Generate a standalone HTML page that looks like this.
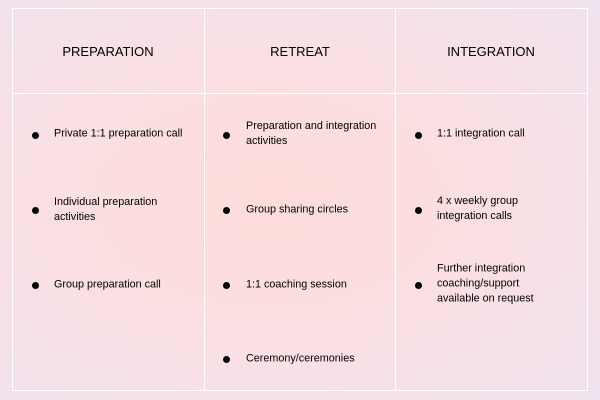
<!DOCTYPE html>
<html><head><style>
body{margin:0;width:600px;height:400px;overflow:hidden;font-family:"Liberation Sans",sans-serif;color:#111;
background:radial-gradient(ellipse at 45% 50%,#fddcda 0%,#fbdfe2 45%,#f3e2eb 85%,#eee3ee 100%);position:relative}
.box{position:absolute;left:12px;top:8px;width:576px;height:383px;border:1px solid #fff;box-sizing:border-box}
.v{position:absolute;top:8px;height:383px;width:1px;background:#fff}
.h{position:absolute;left:12px;width:576px;top:93px;height:1px;background:#fff}
.hd{position:absolute;top:44px;font-size:13px;text-align:center;width:190px;color:#000}
.it{position:absolute;font-size:10.8px;line-height:15px;transform:translateY(-50%);color:#000}
.d{position:absolute;width:7px;height:7px;border-radius:50%;background:#000;transform:translate(-3px,-3px)}
</style></head><body>
<div class="box"></div><div class="v" style="left:204px"></div><div class="v" style="left:395px"></div><div class="h"></div>
<div class="hd" style="left:13px">PREPARATION</div>
<div class="hd" style="left:205px">RETREAT</div>
<div class="hd" style="left:396px">INTEGRATION</div>

<div class="d" style="left:35px;top:135px"></div><div class="it" style="left:54px;top:134px">Private 1:1 preparation call</div>
<div class="d" style="left:35px;top:210px"></div><div class="it" style="left:54px;top:210px">Individual preparation<br>activities</div>
<div class="d" style="left:35px;top:285px"></div><div class="it" style="left:54px;top:285px">Group preparation call</div>

<div class="d" style="left:226px;top:135px"></div><div class="it" style="left:246px;top:134px">Preparation and integration<br>activities</div>
<div class="d" style="left:226px;top:210px"></div><div class="it" style="left:246px;top:210px">Group sharing circles</div>
<div class="d" style="left:226px;top:285px"></div><div class="it" style="left:246px;top:285px">1:1 coaching session</div>
<div class="d" style="left:226px;top:359px"></div><div class="it" style="left:246px;top:359px">Ceremony/ceremonies</div>

<div class="d" style="left:418px;top:135px"></div><div class="it" style="left:437px;top:134px">1:1 integration call</div>
<div class="d" style="left:418px;top:210px"></div><div class="it" style="left:437px;top:209px">4 x weekly group<br>integration calls</div>
<div class="d" style="left:418px;top:285px"></div><div class="it" style="left:437px;top:284px">Further integration<br>coaching/support<br>available on request</div>
</body></html>
